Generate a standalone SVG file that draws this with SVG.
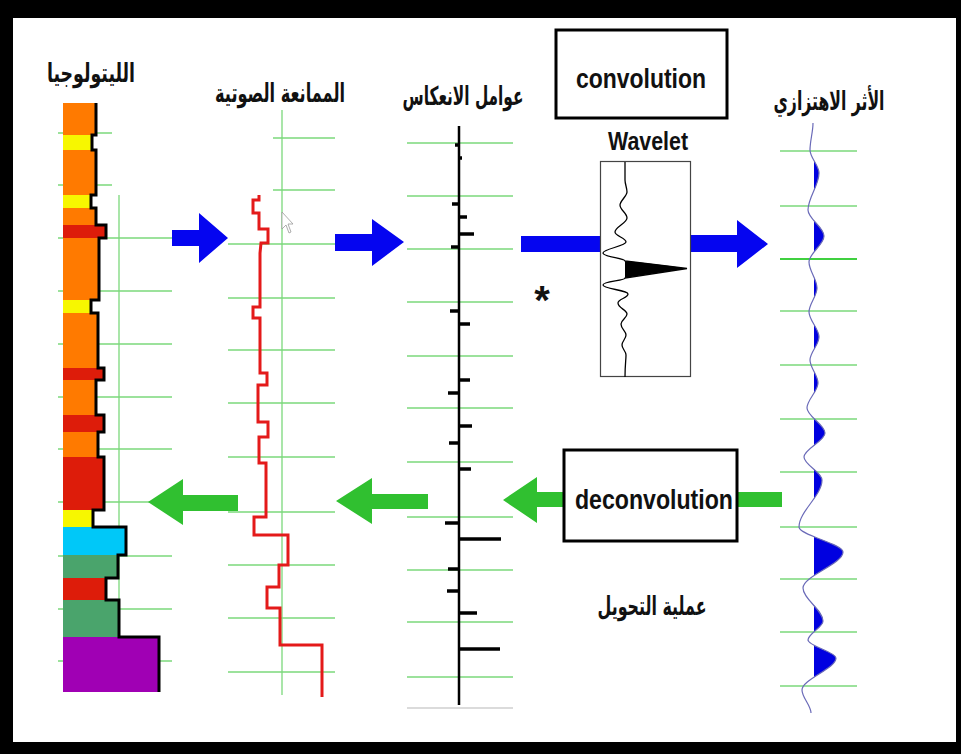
<svg xmlns="http://www.w3.org/2000/svg" width="961" height="754" viewBox="0 0 961 754">
<style>
.grid{stroke:#7bd87b;stroke-width:1.3;fill:none}
.gray{stroke:#cfcfcf;stroke-width:1.3}
.blue{fill:#0505f0}
.green{fill:#30c030}
.ar{font-family:"DejaVu Sans",sans-serif;font-weight:bold;font-size:26px;fill:#111}
.lat{font-family:"Liberation Sans",Arial,sans-serif;font-weight:bold;fill:#111}
.spike{stroke:#000;stroke-width:3.5}
.box{fill:#fff;stroke:#000;stroke-width:3}
</style>
<defs>
<clipPath id="rightHalf"><rect x="814" y="0" width="120" height="754"/></clipPath>
</defs>
<rect x="0" y="0" width="961" height="754" fill="#000"/>
<rect x="13" y="18" width="943" height="724" fill="#fff"/>

<g id="grids">
<g class="grid">
<line x1="58" y1="133" x2="112" y2="133"/><line x1="58" y1="185" x2="112" y2="185"/>
<line x1="58" y1="238" x2="172" y2="238"/><line x1="58" y1="291" x2="172" y2="291"/>
<line x1="58" y1="344" x2="172" y2="344"/><line x1="58" y1="397" x2="172" y2="397"/>
<line x1="58" y1="449" x2="172" y2="449"/><line x1="58" y1="502" x2="172" y2="502"/>
<line x1="58" y1="556" x2="172" y2="556"/><line x1="58" y1="609" x2="172" y2="609"/>
<line x1="58" y1="661" x2="172" y2="661"/>
<line x1="119" y1="195" x2="119" y2="690"/>
<line x1="273" y1="138" x2="335" y2="138"/><line x1="273" y1="190" x2="335" y2="190"/>
<line x1="228" y1="244" x2="335" y2="244"/><line x1="228" y1="298" x2="335" y2="298"/>
<line x1="228" y1="350" x2="335" y2="350"/><line x1="228" y1="403" x2="335" y2="403"/>
<line x1="228" y1="457" x2="335" y2="457"/><line x1="228" y1="512" x2="335" y2="512"/>
<line x1="228" y1="565" x2="335" y2="565"/><line x1="228" y1="618" x2="335" y2="618"/>
<line x1="228" y1="672" x2="335" y2="672"/>
<line x1="282" y1="110" x2="282" y2="695"/>
<line x1="407" y1="143" x2="513" y2="143"/><line x1="407" y1="196" x2="513" y2="196"/>
<line x1="407" y1="249" x2="513" y2="249"/><line x1="407" y1="302" x2="513" y2="302"/>
<line x1="407" y1="356" x2="513" y2="356"/><line x1="407" y1="408" x2="513" y2="408"/>
<line x1="407" y1="462" x2="513" y2="462"/><line x1="407" y1="517" x2="513" y2="517"/>
<line x1="407" y1="570" x2="513" y2="570"/><line x1="407" y1="622" x2="513" y2="622"/>
<line x1="407" y1="677" x2="513" y2="677"/>
<line x1="780" y1="151" x2="857" y2="151"/><line x1="780" y1="206" x2="857" y2="206"/>
<line x1="780" y1="259" x2="857" y2="259" style="stroke:#40d040;stroke-width:2"/><line x1="780" y1="311" x2="857" y2="311"/>
<line x1="780" y1="365" x2="857" y2="365"/><line x1="780" y1="419" x2="857" y2="419"/>
<line x1="780" y1="472" x2="857" y2="472"/><line x1="780" y1="527" x2="857" y2="527"/>
<line x1="780" y1="579" x2="857" y2="579"/><line x1="780" y1="632" x2="857" y2="632"/>
<line x1="780" y1="686" x2="857" y2="686"/>
</g>
<line class="gray" x1="407" y1="708" x2="513" y2="708"/>
</g>

<g id="lithology">
<rect x="63" y="103" width="33" height="32" fill="#ff7a00"/>
<rect x="63" y="135" width="29" height="15" fill="#f7f700"/>
<rect x="63" y="150" width="33" height="45" fill="#ff7a00"/>
<rect x="63" y="195" width="28" height="13" fill="#f7f700"/>
<rect x="63" y="208" width="33" height="17" fill="#ff7a00"/>
<rect x="63" y="225" width="43" height="13" fill="#dd1c0a"/>
<rect x="63" y="238" width="36" height="62" fill="#ff7a00"/>
<rect x="63" y="300" width="28" height="13" fill="#f7f700"/>
<rect x="63" y="313" width="35" height="55" fill="#ff7a00"/>
<rect x="63" y="368" width="41" height="12" fill="#dd1c0a"/>
<rect x="63" y="380" width="33" height="35" fill="#ff7a00"/>
<rect x="63" y="415" width="41" height="17" fill="#dd1c0a"/>
<rect x="63" y="432" width="35" height="25" fill="#ff7a00"/>
<rect x="63" y="457" width="41" height="53" fill="#dd1c0a"/>
<rect x="63" y="510" width="30" height="17" fill="#f7f700"/>
<rect x="63" y="527" width="63" height="28" fill="#00c8f8"/>
<rect x="63" y="555" width="55" height="23" fill="#4aa46c"/>
<rect x="63" y="578" width="43" height="22" fill="#dd1c0a"/>
<rect x="63" y="600" width="56" height="37" fill="#4aa46c"/>
<rect x="63" y="637" width="96" height="55" fill="#a000b4"/>
<path d="M96,103 V135 H92 V150 H96 V195 H91 V208 H96 V225 H106 V238 H99 V300 H91 V313 H98 V368 H104 V380 H96 V415 H104 V432 H98 V457 H104 V510 H93 V527 H126 V555 H118 V578 H106 V600 H119 V637 H159 V692" fill="none" stroke="#000" stroke-width="3"/>
<text class="ar" x="91" y="82" text-anchor="middle" textLength="88" lengthAdjust="spacingAndGlyphs">الليتولوجيا</text>
</g>

<g id="impedance">
<path d="M259,195 V200 H253 V213 H259 V229 H268 V243 H261 L260,253 V307 H253 V318 H260 V373 H267 V385 H258 V422 H268 V437 H259 V463 H266 V517 H254 V535 H288 V565 H279 V587 H267 V608 H280 V645 H322 V697" fill="none" stroke="#e41a1a" stroke-width="3"/>
<path d="M282,212 L282,229 L286,225 L289,233 L291,232 L288,224 L293,224 Z" fill="#fff" stroke="#999" stroke-width="0.8"/>
<text class="ar" x="280" y="102" text-anchor="middle" textLength="130" lengthAdjust="spacingAndGlyphs">الممانعة الصوتية</text>
</g>

<g id="reflectivity">
<line x1="459" y1="126" x2="459" y2="705" stroke="#000" stroke-width="2.5"/>
<g class="spike">
<line x1="455" y1="145" x2="459" y2="145"/><line x1="459" y1="158" x2="462" y2="158"/>
<line x1="452" y1="204" x2="459" y2="204"/><line x1="459" y1="217" x2="467" y2="217"/>
<line x1="459" y1="234" x2="474" y2="234"/><line x1="451" y1="247" x2="459" y2="247"/>
<line x1="450" y1="311" x2="459" y2="311"/><line x1="459" y1="324" x2="470" y2="324"/>
<line x1="459" y1="380" x2="470" y2="380"/><line x1="448" y1="393" x2="459" y2="393"/>
<line x1="459" y1="426" x2="472" y2="426"/><line x1="449" y1="443" x2="459" y2="443"/>
<line x1="459" y1="469" x2="471" y2="469"/><line x1="445" y1="523" x2="459" y2="523"/>
<line x1="459" y1="539" x2="501" y2="539"/><line x1="448" y1="569" x2="459" y2="569"/>
<line x1="447" y1="591" x2="459" y2="591"/><line x1="459" y1="613" x2="477" y2="613"/>
<line x1="459" y1="649" x2="500" y2="649"/>
</g>
<text class="ar" x="463" y="105" text-anchor="middle" textLength="121" lengthAdjust="spacingAndGlyphs">عوامل الانعكاس</text>
</g>

<g id="connectors">
<path class="blue" d="M172,230 H199 V213 L228,238 L199,263 V246 H172 Z"/>
<path class="blue" d="M335,234 H372 V219 L404,242 L372,266 V251 H335 Z"/>
<rect class="blue" x="521" y="236" width="80" height="16"/>
<path class="blue" d="M690,235 H737 V220 L768,244 L737,268 V252 H690 Z"/>
<path class="green" d="M782,492 H537 V477 L503,500 L537,523 V507 H782 Z"/>
<path class="green" d="M428,494 H372 V478 L336,501 L372,524 V509 H428 Z"/>
<path class="green" d="M238,495 H183 V479 L148,502 L183,525 V511 H238 Z"/>
</g>

<g id="convolution">
<rect class="box" x="556" y="30" width="171" height="88"/>
<text class="lat" x="641" y="88" font-size="28" text-anchor="middle" textLength="130" lengthAdjust="spacingAndGlyphs">convolution</text>
</g>

<g id="wavelet">
<text class="lat" x="648" y="150" font-size="26" text-anchor="middle" textLength="80" lengthAdjust="spacingAndGlyphs">Wavelet</text>
<rect x="600.5" y="161.5" width="90" height="215" fill="#fff" stroke="#444" stroke-width="1.2"/>
<path d="M625,261 Q650,263 687,268.5 Q650,274 625,278 Z" fill="#000"/>
<path d="M625,162 L625,180 C625,184 627,188 627,192 C627,196 620,201 620,205 C620,210 627,213 627,218 C627,223 615,227 615,232 C615,236 626,238 626,242 C626,246 603,249 603,253 C603,257 625,258 625,261 L687,268.5 L625,278 C625,281 603,281 603,285 C603,289 628,290 628,294 C628,298 618,299 618,303 C618,308 627,310 627,314 C627,318 621,320 621,324 C621,329 626,331 626,335 C626,339 622,341 622,345 C622,349 626,351 626,355 C626,360 625,365 625,377" fill="none" stroke="#000" stroke-width="1.3"/>
<text class="lat" x="542" y="314" font-size="40" text-anchor="middle">*</text>
</g>

<g id="seismic-trace">
<path clip-path="url(#rightHalf)" fill="#0000e0" d="M813,123 C813,132 810,141 810,150 C810,157.7 819,165.3 819,173 C819,185.3 808,197.7 808,210 C808,218.7 824,227.3 824,236 C824,244.7 809,253.3 809,262 C809,270.7 817,279.3 817,288 C817,296 809,304 809,312 C809,320.3 819,328.7 819,337 C819,344.7 810,352.3 810,360 C810,367.7 818,375.3 818,383 C818,391.3 807,399.7 807,408 C807,416.3 825,424.7 825,433 C825,441 804,449 804,457 C804,464.7 822,472.3 822,480 C822,495.7 799,511.3 799,527 C799,535.3 843,543.7 843,552 C843,564 803,576 803,588 C803,599 823,610 823,621 C823,627.3 808,633.7 808,640 C808,646 836,652 836,658 C836,668.7 802,679.3 802,690 C802,697.7 811,705.3 811,713 L814,713 L814,123 Z"/>
<path fill="none" stroke="#6a6ab8" stroke-width="1.2" d="M813,123 C813,132 810,141 810,150 C810,157.7 819,165.3 819,173 C819,185.3 808,197.7 808,210 C808,218.7 824,227.3 824,236 C824,244.7 809,253.3 809,262 C809,270.7 817,279.3 817,288 C817,296 809,304 809,312 C809,320.3 819,328.7 819,337 C819,344.7 810,352.3 810,360 C810,367.7 818,375.3 818,383 C818,391.3 807,399.7 807,408 C807,416.3 825,424.7 825,433 C825,441 804,449 804,457 C804,464.7 822,472.3 822,480 C822,495.7 799,511.3 799,527 C799,535.3 843,543.7 843,552 C843,564 803,576 803,588 C803,599 823,610 823,621 C823,627.3 808,633.7 808,640 C808,646 836,652 836,658 C836,668.7 802,679.3 802,690 C802,697.7 811,705.3 811,713"/>
<text class="ar" x="829" y="110" text-anchor="middle" textLength="111" lengthAdjust="spacingAndGlyphs">الأثر الاهتزازي</text>
</g>

<g id="deconvolution">
<rect class="box" x="564" y="450" width="173" height="91"/>
<text class="lat" x="654" y="509" font-size="28" text-anchor="middle" textLength="158" lengthAdjust="spacingAndGlyphs">deconvolution</text>
<text class="ar" x="652" y="615" text-anchor="middle" textLength="109" lengthAdjust="spacingAndGlyphs">عملية التحويل</text>
</g>
</svg>
